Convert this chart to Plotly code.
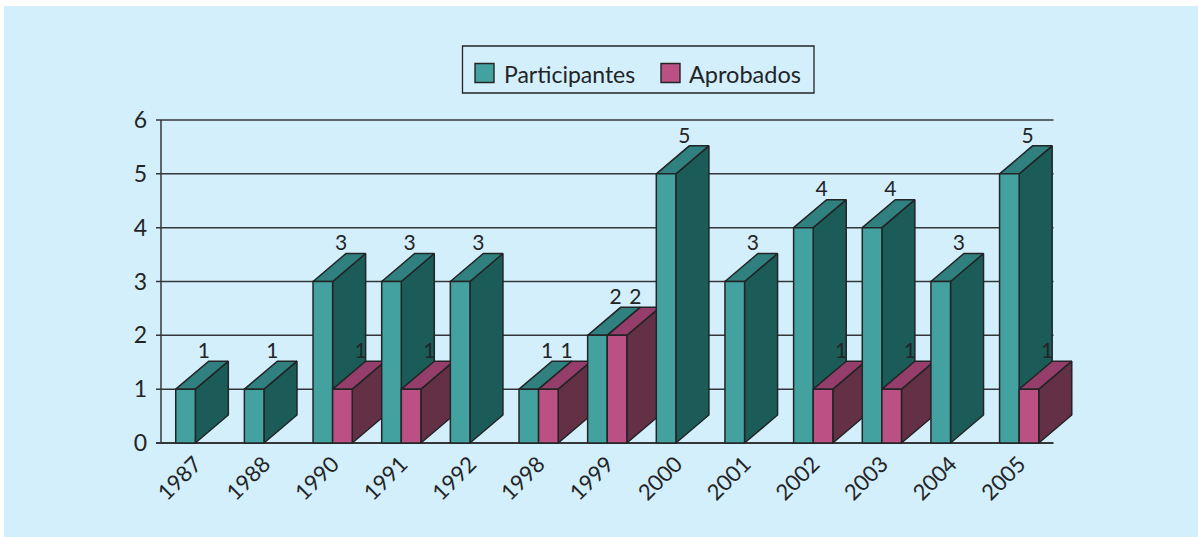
import numpy as np
import plotly.graph_objects as go

years = ["1987", "1988", "1990", "1991", "1992", "1998", "1999", "2000", "2001", "2002", "2003", "2004", "2005"]
participantes = [1, 1, 3, 3, 3, 1, 2, 5, 3, 4, 4, 3, 5]
aprobados = [0, 0, 1, 1, 0, 1, 2, 0, 0, 1, 1, 0, 1]
y_ticks = [0, 1, 2, 3, 4, 5, 6]
series_names = ["Participantes", "Aprobados"]

W, H = 1198, 537
L, R, T, B = 161, 1053.5, 120, 443          # pixel box of the value/category scales
PL, PR, PT, PB = 152, 1090, 110, 446        # wider drawing box so nothing is clipped
FONT = "Lato"
INK = "#222426"
GRID = "#33373A"
PANEL = "#D3EFFC"
TEAL = dict(front="#43A19F", top="#2F807E", side="#1B5C59")
PINK = dict(front="#BB5085", top="#953D6B", side="#643046")

unit_x = (R - L) / len(years)
unit_y = (B - T) / 6
bar_w = 19.6 / unit_x
depth_x = 33.0 / unit_x
depth_y = 28.0 / unit_y
label_y = depth_y - 2.0 / unit_y
x_min = -0.5 - (L - PL) / unit_x
x_max = len(years) - 0.5 + (PR - R) / unit_x
y_min = -(PB - B) / unit_y
y_max = 6 + (T - PT) / unit_y
tick_x = -0.5 - 5.0 / unit_x


def px(v):
    return (v - PL) / (PR - PL)


def py(v):
    return (PB - v) / (PB - PT)


fig = go.Figure()

for t in y_ticks:
    fig.add_trace(go.Scatter(
        x=[tick_x, len(years) - 0.5], y=[t, t], mode="lines",
        line=dict(color=GRID, width=2.0 if t == 0 else 1.5), hoverinfo="skip", showlegend=False,
    ))
fig.add_trace(go.Scatter(
    x=[-0.5, -0.5], y=[y_ticks[0], y_ticks[-1]], mode="lines",
    line=dict(color=GRID, width=1.5), hoverinfo="skip", showlegend=False,
))


def face(xs, ys, color):
    fig.add_trace(go.Scatter(
        x=xs + xs[:1], y=ys + ys[:1], mode="lines", fill="toself", fillcolor=color,
        line=dict(color=INK, width=1.5), hoverinfo="skip", showlegend=False,
    ))


def bar3d(x0, value, c):
    x1 = x0 + bar_w
    face([x1, x1 + depth_x, x1 + depth_x, x1], [0, depth_y, value + depth_y, value], c["side"])
    face([x0, x0 + depth_x, x1 + depth_x, x1], [value, value + depth_y, value + depth_y, value], c["top"])
    face([x0, x1, x1, x0], [0, 0, value, value], c["front"])


idx = np.arange(len(years))
for i in idx:
    bar3d(i - bar_w, participantes[i], TEAL)
    if aprobados[i] > 0:
        bar3d(i, aprobados[i], PINK)

for vals, off in ((participantes, -bar_w), (aprobados, 0.0)):
    xs = [int(i) + off + bar_w / 2 + 0.265 for i in idx if vals[i] > 0]
    ys = [vals[i] + label_y for i in idx if vals[i] > 0]
    ts = [str(vals[i]) for i in idx if vals[i] > 0]
    fig.add_trace(go.Scatter(
        x=xs, y=ys, text=ts, mode="text", textposition="top center",
        textfont=dict(family=FONT, size=21, color=INK), hoverinfo="skip",
        showlegend=False, cliponaxis=False,
    ))

shapes = [
    dict(type="rect", xref="paper", yref="paper", x0=px(4), x1=px(W + 2), y0=py(6), y1=py(H + 2),
         fillcolor=PANEL, line=dict(width=0), layer="below"),
    dict(type="rect", xref="paper", yref="paper", x0=px(462.5), x1=px(814), y0=py(46), y1=py(93),
         fillcolor="rgba(0,0,0,0)", line=dict(color=INK, width=1.3)),
    dict(type="rect", xref="paper", yref="paper", x0=px(475), x1=px(494), y0=py(63.5), y1=py(82.5),
         fillcolor=TEAL["front"], line=dict(color=INK, width=1.4)),
    dict(type="rect", xref="paper", yref="paper", x0=px(661), x1=px(680), y0=py(63.5), y1=py(82.5),
         fillcolor=PINK["front"], line=dict(color=INK, width=1.4)),
]
annotations = [
    dict(xref="paper", yref="paper", x=px(502), y=py(73.5), text=series_names[0], showarrow=False,
         xanchor="left", yanchor="middle", font=dict(family=FONT, size=23, color=INK)),
    dict(xref="paper", yref="paper", x=px(687), y=py(73.5), text=series_names[1], showarrow=False,
         xanchor="left", yanchor="middle", font=dict(family=FONT, size=23.5, color=INK)),
]

fig.update_layout(
    width=W, height=H, autosize=False,
    margin=dict(l=PL, r=W - PR, t=PT, b=H - PB, pad=0),
    paper_bgcolor="white", plot_bgcolor="rgba(0,0,0,0)",
    showlegend=False, shapes=shapes, annotations=annotations,
    xaxis=dict(range=[x_min, x_max], tickvals=idx.tolist(), ticktext=years, tickangle=-45,
               showgrid=False, zeroline=False, showline=False, ticks="",
               tickfont=dict(family=FONT, size=22, color=INK)),
    yaxis=dict(range=[y_min, y_max], tickvals=y_ticks, showgrid=False, zeroline=False,
               showline=False, ticks="", ticklabelstandoff=4,
               tickfont=dict(family=FONT, size=23, color=INK)),
)

fig.write_html("out.html", config=dict(displayModeBar=False), post_script="document.body.style.margin='0';")
